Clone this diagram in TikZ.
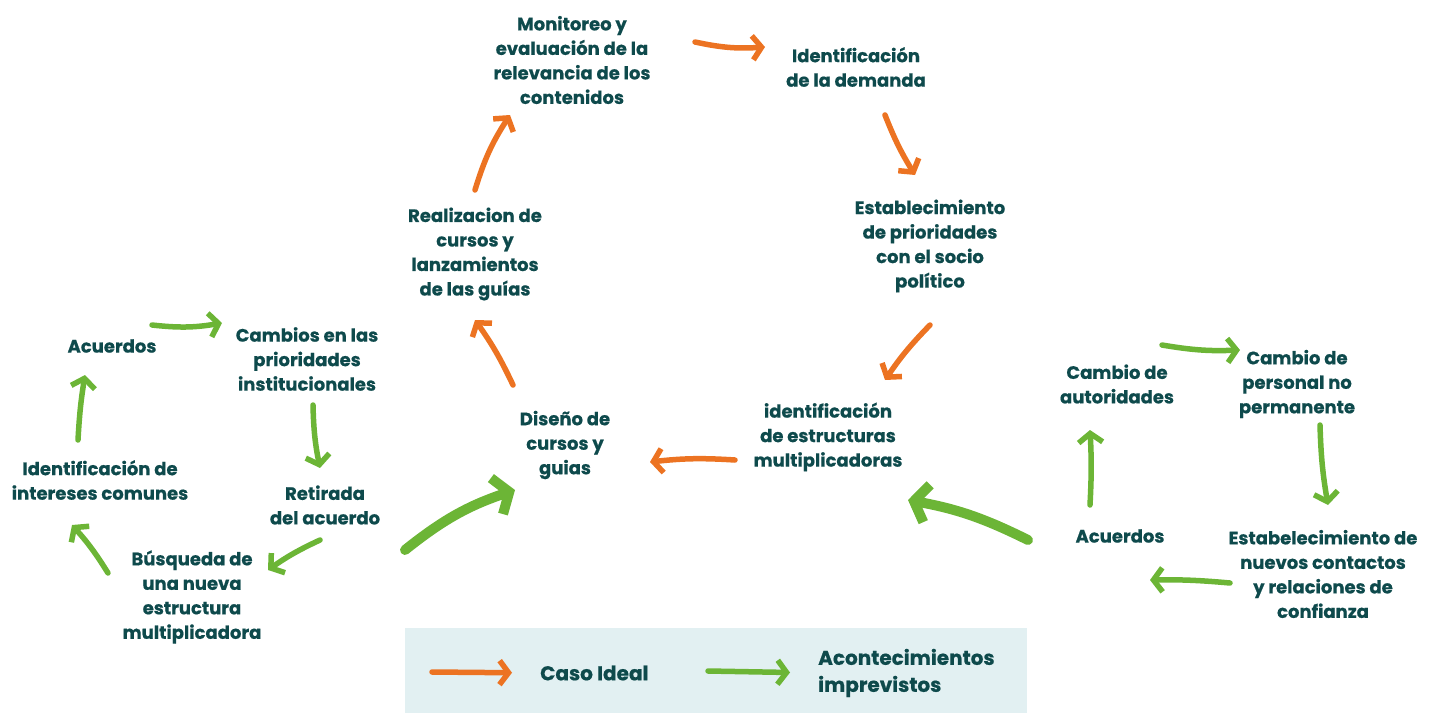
\documentclass[tikz,border=0pt]{standalone}
\usepackage{fontspec}
\setmainfont{Poppins}[BoldFeatures={FakeBold=0.6}]
\usetikzlibrary{arrows.meta}
\definecolor{tealtxt}{HTML}{0E4A4C}
\definecolor{orangeA}{HTML}{EC7322}
\definecolor{greenA}{HTML}{6CB536}
\definecolor{legbg}{HTML}{E2F0F2}
\tikzset{
  txt/.style={text=tealtxt,align=center,inner sep=0pt,
    font=\fontsize{18}{24.5}\selectfont\bfseries},
  legtxt/.style={txt,anchor=west,align=left,
    font=\fontsize{20}{27}\selectfont\bfseries},
  oarr/.style={draw=orangeA,line width=5.5pt,line cap=round,
    -{Straight Barb[length=9pt,width=24pt]}},
  garr/.style={draw=greenA,line width=5.5pt,line cap=round,
    -{Straight Barb[length=9pt,width=24pt]}},
  bigarr/.style={draw=greenA,line width=10pt,line cap=round,
    -{Straight Barb[length=13pt,width=38pt]}}
}
\begin{document}
\begin{tikzpicture}[x=1pt,y=-1pt]
     \useasboundingbox (0,0) rectangle (1438,713);
     \fill[legbg] (405,628) rectangle (1027,713);

     \node[txt] (mon) at (572,60) {Monitoreo y\\evaluación de la\\relevancia de los\\contenidos};
     \node[txt] (dem) at (856,67) {Identificación\\de la demanda};
     \node[txt] (est) at (930,246) {Establecimiento\\de prioridades\\con el socio\\político};
     \node[txt] (iden) at (828,437) {identificación\\de estructuras\\multiplicadoras};
     \node[txt] (dis) at (565,445) {Diseño de\\cursos y\\guias};
     \node[txt] (rea) at (475,254) {Realizacion de\\cursos y\\lanzamientos\\de las guías};

     \draw[oarr] ([shift={(123,-18)}]mon.center) to[bend right=8] ([shift={(-91,-20)}]dem.center);
     \draw[oarr] ([shift={(29,48)}]dem.center) to[bend right=5] ([shift={(-15,-71)}]est.center);
     \draw[oarr] ([shift={(0,79)}]est.center) to[bend right=5] ([shift={(57,-57)}]iden.center);
     \draw[oarr] ([shift={(-93,23)}]iden.center) to[bend right=5] ([shift={(85,17)}]dis.center);
     \draw[oarr] ([shift={(-52,-60)}]dis.center) to[bend right=5] ([shift={(0,66)}]rea.center);
     \draw[oarr] ([shift={(0,-64)}]rea.center) to[bend left=8] ([shift={(-62,55)}]mon.center);

     \node[txt] (acuA) at (112,346) {Acuerdos};
     \node[txt] (cam) at (307,359) {Cambios en las\\prioridades\\institucionales};
     \node[txt] (ret) at (325,505) {Retirada\\del acuerdo};
     \node[txt] (bus) at (192,597) {Búsqueda de\\una nueva\\estructura\\multiplicadora};
     \node[txt] (int) at (100,480) {Identificación de\\intereses comunes};

     \draw[garr] ([shift={(40,-21)}]acuA.center) to[bend right=8] ([shift={(-85,-36)}]cam.center);
     \draw[garr] ([shift={(6,46)}]cam.center) to[bend right=5] ([shift={(-5,-37)}]ret.center);
     \draw[garr] ([shift={(-5,35)}]ret.center) to[bend right=5] ([shift={(76,-27)}]bus.center);
     \draw[garr] ([shift={(-84,-24)}]bus.center) to[bend right=5] ([shift={(-28,45)}]int.center);
     \draw[garr] ([shift={(-22,-40)}]int.center) to[bend left=3] ([shift={(-27,29)}]acuA.center);
     \draw[bigarr] ([shift={(213,-47)}]bus.center) to[bend left=10] ([shift={(-50,45)}]dis.center);

     \node[txt] (aut) at (1117,384) {Cambio de\\autoridades};
     \node[txt] (per) at (1297,384) {Cambio de\\personal no\\permanente};
     \node[txt] (nue) at (1323,574) {Estabelecimiento de\\nuevos contactos\\y relaciones de\\confianza};
     \node[txt] (acuB) at (1120,536) {Acuerdos};

     \draw[garr] ([shift={(45,-39)}]aut.center) to[bend right=6] ([shift={(-57,-34)}]per.center);
     \draw[garr] ([shift={(23,41)}]per.center) to[bend right=4] ([shift={(5,-69)}]nue.center);
     \draw[garr] ([shift={(-93,9)}]nue.center) to[bend right=3] ([shift={(30,44)}]acuB.center);
     \draw[garr] ([shift={(-30,-31)}]acuB.center) to[bend right=3] ([shift={(-27,46)}]aut.center);
     \draw[bigarr] ([shift={(-92,4)}]acuB.center) to[bend right=8] ([shift={(80,63)}]iden.center);

     \node[legtxt] (caso) at (540,673) {Caso Ideal};
     \node[legtxt] (impr) at (818,673) {Acontecimientos\\imprevistos};
     \coordinate (legO) at (432,672);
     \coordinate (legG) at (708,671);
     \draw[oarr,shorten >=28pt] (legO) -- (caso.west);
     \draw[garr,shorten >=28pt] (legG) -- (impr.west);
\end{tikzpicture}
\end{document}
